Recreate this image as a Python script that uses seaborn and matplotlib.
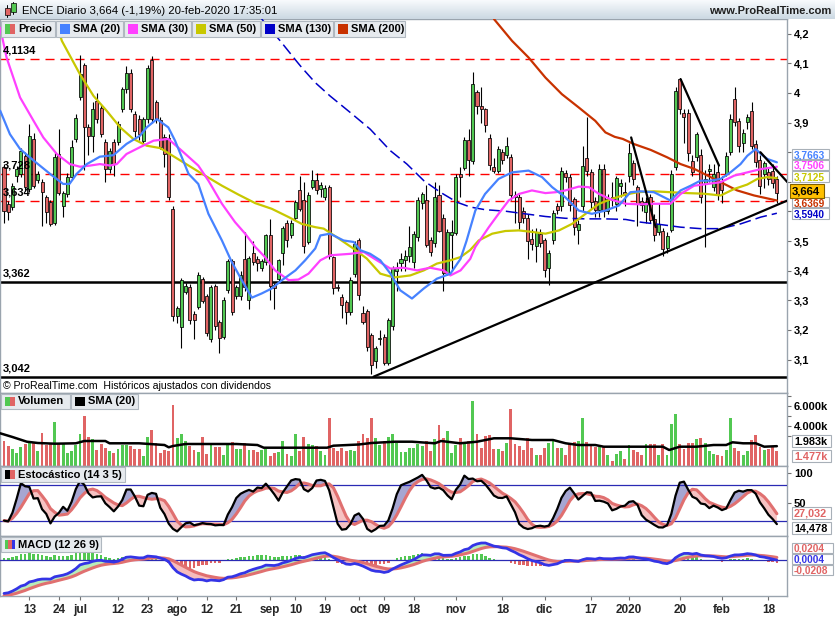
import numpy as np
import pandas as pd
import matplotlib
matplotlib.use("Agg")
import matplotlib.pyplot as plt
from matplotlib.patches import Rectangle
from matplotlib.lines import Line2D
import matplotlib.transforms as mtransforms
import seaborn as sns

sns.set_theme(style="white")
plt.rcParams["font.family"] = ["Liberation Sans", "DejaVu Sans"]
plt.rcParams["lines.scale_dashes"] = False

# ------------------------------------------------------------------ data
first_day, last_day = "2019-06-05", "2020-02-20"
holidays = ["2019-12-25", "2019-12-26", "2020-01-01"]

opens = [
    3.749, 3.626, 3.615, 3.721, 3.727, 3.788, 3.676, 3.845, 3.707, 3.699,
    3.648, 3.631, 3.561, 3.794, 3.620, 3.659, 3.715, 3.844, 3.985, 4.095,
    3.886, 3.856, 3.974, 3.951, 3.833, 3.743, 3.833, 3.833, 3.946, 4.013,
    4.069, 3.929, 3.912, 3.839, 3.912, 4.111, 3.968, 3.909, 3.850, 3.848,
    3.609, 3.246, 3.211, 3.328, 3.345, 3.255, 3.278, 3.373, 3.314, 3.169,
    3.349, 3.227, 3.177, 3.334, 3.433, 3.314, 3.314, 3.438, 3.302, 3.460,
    3.438, 3.409, 3.430, 3.522, 3.353, 3.373, 3.459, 3.561, 3.519, 3.579,
    3.671, 3.639, 3.497, 3.682, 3.706, 3.675, 3.648, 3.684, 3.446, 3.345,
    3.311, 3.295, 3.261, 3.388, 3.502, 3.258, 3.264, 3.182, 3.096, 3.168,
    3.175, 3.087, 3.213, 3.400, 3.426, 3.435, 3.448, 3.429, 3.513, 3.628,
    3.639, 3.502, 3.493, 3.657, 3.579, 3.393, 3.520, 3.527, 3.725, 3.747,
    3.841, 3.772, 4.005, 3.955, 3.945, 3.848, 3.751, 3.738, 3.800, 3.792,
    3.783, 3.657, 3.650, 3.600, 3.578, 3.508, 3.482, 3.525, 3.502, 3.409,
    3.502, 3.618, 3.618, 3.729, 3.716, 3.643, 3.536, 3.620, 3.781, 3.732,
    3.635, 3.606, 3.743, 3.603, 3.650, 3.626, 3.685, 3.665, 3.721, 3.763,
    3.682, 3.637, 3.598, 3.648, 3.575, 3.530, 3.533, 3.476, 3.538, 3.749,
    4.047, 3.934, 3.934, 3.772, 3.783, 3.792, 3.693, 3.737, 3.682, 3.732,
    3.704, 3.727, 3.800, 3.979, 3.906, 3.832, 3.903, 3.940, 3.828, 3.774,
    3.727, 3.732, 3.738, 3.710,
]
highs = [
    3.760, 3.635, 3.695, 3.755, 3.815, 3.800, 3.895, 3.865, 3.735, 3.710,
    3.655, 3.640, 3.800, 3.878, 3.670, 3.730, 3.840, 3.930, 4.128, 4.100,
    3.895, 3.970, 4.000, 3.960, 3.845, 3.815, 3.845, 3.905, 4.020, 4.090,
    4.080, 3.940, 3.925, 3.920, 4.095, 4.125, 3.975, 3.920, 3.860, 3.860,
    3.620, 3.280, 3.375, 3.360, 3.355, 3.265, 3.395, 3.380, 3.320, 3.350,
    3.355, 3.235, 3.310, 3.440, 3.440, 3.350, 3.400, 3.530, 3.450, 3.500,
    3.450, 3.440, 3.525, 3.575, 3.360, 3.440, 3.550, 3.570, 3.570, 3.640,
    3.720, 3.700, 3.665, 3.740, 3.730, 3.700, 3.690, 3.690, 3.450, 3.355,
    3.320, 3.300, 3.380, 3.500, 3.510, 3.280, 3.270, 3.190, 3.145, 3.200,
    3.185, 3.240, 3.415, 3.430, 3.460, 3.470, 3.550, 3.535, 3.650, 3.665,
    3.690, 3.515, 3.700, 3.690, 3.590, 3.540, 3.570, 3.725, 3.750, 3.850,
    3.880, 4.070, 4.010, 4.020, 3.950, 3.860, 3.780, 3.820, 3.810, 3.850,
    3.795, 3.670, 3.660, 3.615, 3.590, 3.540, 3.545, 3.540, 3.510, 3.470,
    3.605, 3.630, 3.750, 3.740, 3.725, 3.650, 3.570, 3.820, 3.920, 3.745,
    3.650, 3.760, 3.760, 3.660, 3.700, 3.720, 3.710, 3.700, 3.830, 3.775,
    3.690, 3.650, 3.650, 3.660, 3.590, 3.630, 3.545, 3.530, 3.740, 4.020,
    4.050, 3.945, 3.945, 3.790, 3.870, 3.810, 3.740, 3.760, 3.760, 3.760,
    3.720, 3.800, 3.930, 4.020, 3.915, 3.880, 3.930, 3.970, 3.840, 3.790,
    3.770, 3.750, 3.760, 3.720,
]
lows = [
    3.561, 3.570, 3.605, 3.700, 3.715, 3.668, 3.665, 3.680, 3.695, 3.550,
    3.560, 3.550, 3.555, 3.655, 3.580, 3.650, 3.705, 3.835, 3.975, 3.740,
    3.790, 3.800, 3.900, 3.850, 3.700, 3.730, 3.720, 3.825, 3.935, 4.000,
    3.935, 3.850, 3.840, 3.830, 3.900, 3.900, 3.900, 3.810, 3.750, 3.640,
    3.230, 3.225, 3.138, 3.320, 3.220, 3.170, 3.270, 3.290, 3.180, 3.160,
    3.200, 3.121, 3.170, 3.325, 3.250, 3.305, 3.300, 3.330, 3.270, 3.420,
    3.400, 3.400, 3.420, 3.300, 3.270, 3.365, 3.420, 3.480, 3.510, 3.570,
    3.600, 3.460, 3.490, 3.675, 3.660, 3.650, 3.640, 3.440, 3.320, 3.330,
    3.240, 3.220, 3.250, 3.380, 3.300, 3.220, 3.130, 3.050, 3.070, 3.150,
    3.080, 3.080, 3.200, 3.330, 3.400, 3.400, 3.430, 3.410, 3.500, 3.610,
    3.480, 3.450, 3.480, 3.530, 3.330, 3.385, 3.400, 3.520, 3.650, 3.740,
    3.720, 3.760, 3.930, 3.900, 3.870, 3.740, 3.730, 3.730, 3.760, 3.780,
    3.640, 3.560, 3.540, 3.560, 3.440, 3.470, 3.430, 3.480, 3.380, 3.350,
    3.490, 3.590, 3.600, 3.700, 3.600, 3.520, 3.490, 3.600, 3.720, 3.610,
    3.580, 3.580, 3.580, 3.590, 3.620, 3.600, 3.650, 3.620, 3.700, 3.690,
    3.550, 3.600, 3.560, 3.560, 3.500, 3.520, 3.450, 3.460, 3.530, 3.740,
    3.930, 3.830, 3.770, 3.720, 3.770, 3.630, 3.480, 3.700, 3.670, 3.640,
    3.630, 3.720, 3.790, 3.890, 3.800, 3.800, 3.880, 3.810, 3.750, 3.660,
    3.680, 3.690, 3.680, 3.630,
]
closes = [
    3.603, 3.598, 3.687, 3.743, 3.805, 3.682, 3.856, 3.687, 3.727, 3.665,
    3.598, 3.558, 3.783, 3.662, 3.662, 3.715, 3.816, 3.915, 4.063, 3.886,
    3.856, 3.945, 3.912, 3.862, 3.743, 3.805, 3.760, 3.895, 4.013, 4.066,
    3.946, 3.873, 3.862, 3.912, 4.086, 3.912, 3.912, 3.819, 3.794, 3.650,
    3.246, 3.275, 3.368, 3.347, 3.233, 3.233, 3.387, 3.298, 3.191, 3.345,
    3.214, 3.173, 3.302, 3.433, 3.261, 3.345, 3.387, 3.345, 3.444, 3.428,
    3.427, 3.432, 3.519, 3.347, 3.340, 3.435, 3.545, 3.504, 3.561, 3.631,
    3.609, 3.485, 3.657, 3.706, 3.671, 3.690, 3.680, 3.448, 3.340, 3.340,
    3.283, 3.261, 3.370, 3.491, 3.317, 3.227, 3.143, 3.081, 3.138, 3.172,
    3.087, 3.233, 3.409, 3.408, 3.438, 3.450, 3.480, 3.525, 3.639, 3.659,
    3.488, 3.463, 3.650, 3.534, 3.392, 3.530, 3.530, 3.716, 3.718, 3.841,
    3.774, 4.032, 3.957, 3.945, 3.893, 3.758, 3.735, 3.811, 3.774, 3.821,
    3.657, 3.648, 3.564, 3.578, 3.500, 3.491, 3.530, 3.493, 3.401, 3.460,
    3.594, 3.606, 3.738, 3.718, 3.622, 3.547, 3.556, 3.755, 3.736, 3.631,
    3.606, 3.743, 3.603, 3.643, 3.640, 3.713, 3.695, 3.655, 3.796, 3.710,
    3.624, 3.622, 3.631, 3.570, 3.519, 3.556, 3.474, 3.516, 3.727, 4.007,
    3.946, 3.918, 3.796, 3.732, 3.861, 3.650, 3.710, 3.745, 3.725, 3.654,
    3.673, 3.788, 3.912, 3.901, 3.822, 3.864, 3.920, 3.822, 3.766, 3.686,
    3.763, 3.710, 3.695, 3.664,
]
volumes_k = [
    2500, 2000, 1700, 1300, 1900, 2200, 2300, 2300, 1500, 3300,
    2100, 2300, 4400, 2200, 2200, 1300, 1500, 2100, 3200, 5000,
    2900, 2700, 1600, 2200, 1800, 1500, 1300, 1700, 2100, 2100,
    2000, 1700, 1700, 1000, 2900, 3600, 2300, 1300, 1600, 1500,
    6100, 2800, 3200, 2500, 2000, 1600, 1400, 2900, 1200, 2100,
    1900, 1900, 1100, 2200, 2400, 1700, 1700, 2300, 1600, 1600,
    1400, 1600, 1700, 1000, 1300, 1400, 2500, 1200, 1000, 3200,
    1500, 2900, 2200, 2100, 2000, 1500, 1100, 4800, 1800, 1500,
    1800, 1500, 1600, 1500, 2500, 3200, 2800, 4800, 2800, 2100,
    2500, 2900, 3200, 2300, 1400, 1400, 1800, 1800, 2200, 2000,
    2500, 1500, 2700, 4100, 2800, 3500, 1300, 2100, 2800, 2300,
    2500, 6500, 3200, 1800, 3000, 3100, 1700, 1700, 1500, 2300,
    5700, 2200, 2000, 1600, 2800, 1800, 1100, 1100, 1800, 2300,
    2600, 1800, 1800, 1100, 2300, 2400, 2500, 4800, 2400, 2000,
    1900, 1900, 1900, 1100, 500, 1200, 1500, 700, 2100, 1600,
    1400, 1100, 2200, 2200, 2200, 1100, 2200, 1100, 4200, 5200,
    2200, 1700, 2300, 2300, 2700, 2800, 2300, 1500, 1200, 1100,
    1000, 1600, 4800, 1800, 1500, 1100, 1500, 2600, 3100, 1900,
    1600, 1700, 2000, 1477,
]

# moving averages (bar position, value)
sma20_x = [-0.9, 1.4, 3.8, 7, 10.9, 14, 15.5, 17.2, 19.6, 22.7,
           25.9, 29, 32.2, 33.8, 36.2, 38.9, 40.5, 43.7, 46, 48.4,
           51.6, 53.9, 56.3, 58.7, 61, 63.4, 65.8, 69, 71.3, 73.7,
           74.9, 77.2, 80.4, 82.8, 84.4, 86.7, 89.1, 91.5, 93.8, 96.6,
           99.4, 102.5, 105.7, 108.1, 109.5, 111.6, 113.9, 117.1, 120.3, 124.2,
           127.4, 129.8, 132.9, 136.1, 139.2, 142.4, 145.6, 148.3, 150.7, 153.9,
           157.8, 160.2, 162.6, 164.9, 167.3, 169.7, 172, 174.4, 176, 178,
           179.2, 180.8, 183]
sma20_y = [3.940, 3.861, 3.811, 3.772, 3.727, 3.693, 3.693, 3.727, 3.760, 3.785,
           3.790, 3.828, 3.856, 3.884, 3.912, 3.884, 3.839, 3.727, 3.693, 3.592,
           3.502, 3.430, 3.368, 3.309, 3.323, 3.340, 3.368, 3.401, 3.435, 3.475,
           3.519, 3.525, 3.502, 3.497, 3.469, 3.457, 3.435, 3.390, 3.334, 3.306,
           3.340, 3.373, 3.390, 3.440, 3.500, 3.603, 3.659, 3.710, 3.732, 3.738,
           3.716, 3.682, 3.648, 3.603, 3.592, 3.603, 3.620, 3.665, 3.668, 3.665,
           3.637, 3.671, 3.687, 3.704, 3.704, 3.710, 3.732, 3.760, 3.788, 3.811,
           3.794, 3.777, 3.766]
sma30_x = [-0.9, 0.6, 3.8, 7, 9.3, 12.5, 15.6, 18, 20.4, 22.7, 25.1,
           26.7, 29, 32.2, 35.4, 38.9, 42.1, 46, 48.4, 51.6, 54.7,
           57.1, 59.5, 61.8, 64.2, 67.4, 69.7, 72.1, 74.9, 77.2, 82,
           85.2, 88.3, 91.5, 94.6, 97.8, 100.9, 104.1, 105.7, 108.1, 110.4,
           111.6, 114.8, 117.1, 119.5, 121.9, 125, 128.2, 130.6, 132.9, 136.1,
           138.5, 140.9, 144, 147.2, 150.7, 153.9, 157.8, 160.2, 163.4, 166.6,
           169.7, 172.9, 176, 179.2, 183]
sma30_y = [4.220, 4.120, 3.985, 3.906, 3.850, 3.794, 3.760, 3.751, 3.755, 3.760, 3.755,
           3.760, 3.794, 3.817, 3.839, 3.845, 3.805, 3.755, 3.704, 3.626, 3.564,
           3.525, 3.480, 3.446, 3.401, 3.368, 3.370, 3.390, 3.435, 3.452, 3.457,
           3.463, 3.435, 3.407, 3.410, 3.401, 3.410, 3.401, 3.384, 3.401, 3.440,
           3.480, 3.547, 3.592, 3.637, 3.659, 3.671, 3.662, 3.665, 3.671, 3.684,
           3.682, 3.659, 3.639, 3.626, 3.624, 3.626, 3.626, 3.659, 3.687, 3.693,
           3.699, 3.721, 3.732, 3.743, 3.751]
sma50_x = [12.5, 13.7, 18, 21.2, 24.3, 27.5, 30.6, 33.8, 37, 39.7,
           43.7, 47.6, 51.6, 55.5, 59.5, 63.4, 67.4, 70.5, 73.7, 75.7,
           78.8, 82.8, 85.9, 89.1, 92.3, 96.2, 99.4, 102.5, 105.7, 108.1,
           110.4, 112.4, 115.6, 118.7, 121.9, 125, 128.2, 131.4, 134.5, 137.7,
           140.9, 144, 147.2, 150, 153.9, 157.8, 161.8, 165.7, 169.7, 172.9,
           176, 178.4, 180.8, 183]
sma50_y = [4.230, 4.176, 4.063, 3.990, 3.940, 3.884, 3.845, 3.822, 3.814, 3.790,
           3.755, 3.721, 3.687, 3.657, 3.628, 3.609, 3.581, 3.558, 3.547, 3.542,
           3.513, 3.474, 3.441, 3.390, 3.377, 3.384, 3.401, 3.424, 3.435, 3.446,
           3.470, 3.502, 3.525, 3.534, 3.536, 3.531, 3.525, 3.536, 3.558, 3.592,
           3.626, 3.643, 3.657, 3.665, 3.668, 3.665, 3.662, 3.660, 3.654, 3.676,
           3.691, 3.710, 3.716, 3.7125]
sma130_x = [61, 65.4, 69.4, 70.5, 73.7, 77.2, 82, 86.7, 91.5, 95.4,
            99.4, 103.3, 107.3, 110.4, 113.9, 118.7, 123.4, 128.2, 132.9, 137.7,
            142.4, 147.2, 150.7, 155.4, 160.2, 164.9, 169.7, 174.4, 179.2, 183]
sma130_y = [4.250, 4.176, 4.105, 4.086, 4.035, 3.990, 3.934, 3.878, 3.805, 3.760,
            3.704, 3.665, 3.631, 3.615, 3.606, 3.601, 3.592, 3.583, 3.577, 3.575,
            3.575, 3.573, 3.564, 3.556, 3.547, 3.542, 3.542, 3.558, 3.581, 3.594]
sma200_x = [116, 120.3, 124.2, 128.2, 132.1, 136.1, 140, 142.4, 144.6, 146.5,
            149.1, 153.1, 157, 160.2, 163.4, 166.6, 169.7, 173.6, 177.6, 183]
sma200_y = [4.250, 4.176, 4.120, 4.052, 3.996, 3.951, 3.906, 3.867, 3.852, 3.845,
            3.828, 3.808, 3.783, 3.760, 3.744, 3.721, 3.699, 3.671, 3.654, 3.637]

vol_sma_x = [-0.9, 2, 5.4, 8, 12, 17, 19, 24, 25, 32, 38, 39, 40, 43, 50,
             55, 60, 61.5, 70, 76.5, 78, 84, 87, 92.6, 96.6, 102, 103.5, 108,
             112, 116, 120, 125, 130, 133, 136, 140, 142, 150, 156, 157.5,
             160, 164, 168, 171, 172.5, 175, 178, 180, 183]
vol_sma_y = [3270, 2900, 2430, 2300, 2230, 2270, 2500, 2500, 2270, 2270, 2100, 1870, 2000, 2200, 2200,
             2200, 2100, 1830, 1830, 1830, 2030, 2150, 2300, 2430, 2430, 2270, 2500, 2270,
             2430, 2770, 2770, 2600, 2600, 2270, 2100, 2100, 1930, 1930, 1930, 1600,
             1930, 1930, 2100, 2100, 2370, 2270, 2270, 1930, 1983]

# horizontal levels and drawn trend lines
levels = [4.1134, 3.728, 3.634, 3.362, 3.042]
level_labels = ["4,1134", "3,728", "3,634", "3,362", "3,042"]
trend_x = [[87.5, 185.5], [148.5, 154.3], [160.2, 169.3], [179.1, 185.5]]
trend_y = [[3.042, 3.637], [3.850, 3.547], [4.047, 3.755], [3.800, 3.699]]

# state of the MACD averages before the first visible bar
macd_seed = {"ema12": 3.82, "ema26": 4.09, "signal": -0.29}

tick_dates = ["2019-06-13", "2019-06-24", "2019-07-01", "2019-07-12", "2019-07-23",
              "2019-08-01", "2019-08-12", "2019-08-21", "2019-09-02", "2019-09-10",
              "2019-09-19", "2019-10-01", "2019-10-09", "2019-10-18", "2019-11-01",
              "2019-11-18", "2019-12-02", "2019-12-17", "2020-01-02", "2020-01-20",
              "2020-02-03", "2020-02-18"]
tick_labels = ["13", "24", "jul", "12", "23", "ago", "12", "21", "sep", "10", "19",
               "oct", "09", "18", "nov", "18", "dic", "17", "2020", "20", "feb", "18"]
price_ticks = [3.1, 3.2, 3.3, 3.4, 3.5, 3.6, 3.7, 3.8, 3.9, 4.0, 4.1, 4.2]
# 3,6 / 3,7 / 3,8 sit behind the value boxes in the reference
price_tick_labels = ["3,1", "3,2", "3,3", "3,4", "3,5", "", "", "", "3,9", "4", "4,1", "4,2"]

# ------------------------------------------------------------------ derived
dates = pd.bdate_range(first_day, last_day)
dates = dates[~dates.isin(pd.to_datetime(holidays))]
n = len(dates)
x = np.arange(n)
o, h, l, c = (np.asarray(a, float) for a in (opens, highs, lows, closes))
vol = np.asarray(volumes_k, float)

GREEN, RED = "#52c852", "#e06464"
colors = np.where(c >= o, GREEN, RED)

hh = pd.Series(h).rolling(14, min_periods=1).max()
ll = pd.Series(l).rolling(14, min_periods=1).min()
fast = (pd.Series(c) - ll) / (hh - ll) * 100
stoch_k = fast.rolling(3, min_periods=1).mean().to_numpy()
stoch_d = pd.Series(stoch_k).rolling(5, min_periods=1).mean().to_numpy()

e12, e26, sg = macd_seed["ema12"], macd_seed["ema26"], macd_seed["signal"]
macd, signal = [], []
for v in c:
    e12 += 2 / 13 * (v - e12)
    e26 += 2 / 27 * (v - e26)
    m = e12 - e26
    sg += 2 / 10 * (m - sg)
    macd.append(m)
    signal.append(sg)
macd = np.array(macd)
signal = np.array(signal)
hist = macd - signal

# ------------------------------------------------------------------ figure
W, H = 835, 620
fig = plt.figure(figsize=(W / 100, H / 100), dpi=100)
fig.patch.set_facecolor("white")


def rect(x0, y0, x1, y1):
    return [x0 / W, 1 - y1 / H, (x1 - x0) / W, (y1 - y0) / H]


ax_p = fig.add_axes(rect(0, 19, 787, 393))
ax_v = fig.add_axes(rect(0, 393, 787, 466))
ax_s = fig.add_axes(rect(0, 466, 787, 536))
ax_m = fig.add_axes(rect(0, 536, 787, 596))
axes = [ax_p, ax_v, ax_s, ax_m]
GRID = "#9aa4ae"
for ax in axes:
    ax.set_xlim(-0.95, 185.4)
    ax.set_facecolor("white")
    for sp in ax.spines.values():
        sp.set_color(GRID)
        sp.set_linewidth(1.0)
    ax.yaxis.tick_right()
    ax.tick_params(axis="x", bottom=False, labelbottom=False)
    ax.tick_params(axis="y", right=True, left=False, direction="out", length=3,
                   width=0.8, color="#707070", labelsize=8, pad=2, labelcolor="black")

# ---- price panel
ax_p.set_ylim(2.987, 4.2499)
for v, lab in zip(levels, level_labels):
    if v > 3.6:
        ax_p.axhline(v, color="#ff0000", lw=1.0, linestyle=(0, (6.5, 4.3)), zorder=2)
    else:
        ax_p.axhline(v, color="black", lw=1.8, zorder=2)
    ax_p.text(0.004, v + 0.012, lab, transform=mtransforms.blended_transform_factory(ax_p.transAxes, ax_p.transData),
              fontsize=8, fontweight="bold", color="black", va="bottom", ha="left", zorder=8)

ax_p.vlines(x, l, h, color="black", lw=0.8, zorder=3)
ax_p.bar(x, np.maximum(np.abs(c - o), 0.003), bottom=np.minimum(o, c), width=0.72,
         color=colors, edgecolor="black", linewidth=0.55, zorder=4)

sma_specs = [
    (sma130_x, sma130_y, "#0000c8", 1.1, (0, (8.5, 3.6))),
    (sma200_x, sma200_y, "#c83200", 1.6, "-"),
    (sma50_x, sma50_y, "#c8c800", 1.6, "-"),
    (sma30_x, sma30_y, "#ff40ff", 1.6, "-"),
    (sma20_x, sma20_y, "#4682ff", 1.6, "-"),
]
for xs, ys, col, lw, ls in sma_specs:
    sns.lineplot(x=xs, y=ys, ax=ax_p, color=col, lw=lw, linestyle=ls, sort=False,
                 estimator=None, legend=False, zorder=5)
for tx, ty in zip(trend_x, trend_y):
    ax_p.plot(tx, ty, color="black", lw=1.6, zorder=6, solid_capstyle="round")
ax_p.set_yticks(price_ticks)
ax_p.set_yticklabels(price_tick_labels, fontweight="bold")

# ---- volume panel
ax_v.set_ylim(0, 7300)
ax_v.bar(x, vol, width=0.68, color=colors, linewidth=0, zorder=2)
sns.lineplot(x=vol_sma_x, y=vol_sma_y, ax=ax_v, color="black", lw=1.8, sort=False,
             estimator=None, legend=False, zorder=4)
ax_v.set_yticks([3000, 4000, 5000, 6000, 7000])
ax_v.set_yticklabels(["", "4.000k", "", "6.000k", ""], fontweight="bold")

# ---- stochastic panel
ax_s.set_ylim(-4.5, 112.2)
ax_s.fill_between(x, stoch_k, stoch_d, where=stoch_k >= stoch_d, interpolate=True,
                  color="#a6a6d2", lw=0, zorder=2)
ax_s.fill_between(x, stoch_k, stoch_d, where=stoch_k < stoch_d, interpolate=True,
                  color="#f6c2c2", lw=0, zorder=2)
for lvl in (80, 20):
    ax_s.axhline(lvl, color="#2a2ab4", lw=0.9, zorder=3)
sns.lineplot(x=x, y=stoch_d, ax=ax_s, color="#e07070", lw=2.2, legend=False, zorder=4)
sns.lineplot(x=x, y=stoch_k, ax=ax_s, color="black", lw=1.6, legend=False, zorder=5)
ax_s.set_yticks([50, 100])
ax_s.set_yticklabels(["50", "100"], fontweight="bold")

# ---- MACD panel
ax_m.set_ylim(-0.288, 0.192)
ax_m.bar(x, hist, width=0.6, color=np.where(hist >= 0, GREEN, RED), linewidth=0, zorder=2)
ax_m.fill_between(x, macd, signal, where=macd >= signal, interpolate=True,
                  color="#b8ecb8", lw=0, zorder=2)
ax_m.fill_between(x, macd, signal, where=macd < signal, interpolate=True,
                  color="#f6bcbc", lw=0, zorder=2)
ax_m.axhline(0, color="#2a2ab4", lw=0.9, zorder=3)
sns.lineplot(x=x, y=signal, ax=ax_m, color="#e07070", lw=2.2, legend=False, zorder=4)
sns.lineplot(x=x, y=macd, ax=ax_m, color="#3434e6", lw=2.0, legend=False, zorder=5)
ax_m.set_yticks([])
tick_idx = [dates.get_loc(pd.Timestamp(d)) for d in tick_dates]
ax_m.set_xticks(tick_idx)
ax_m.set_xticklabels(tick_labels, fontweight="bold", fontsize=8.5)
ax_m.tick_params(axis="x", bottom=True, labelbottom=True, direction="out", length=3,
                 width=0.8, color="#707070", pad=3)

for ax in axes:
    ax.set_xlabel("")
    ax.set_ylabel("")

# ------------------------------------------------------------------ header & legends
ax_h = fig.add_axes(rect(0, 0, W, 19))
grad = np.linspace(0, 1, 20)[:, None, None]
top_c = np.array([0.97, 0.98, 0.99])
bot_c = np.array([0.80, 0.85, 0.89])
ax_h.imshow(top_c + (bot_c - top_c) * grad, aspect="auto", extent=[0, 1, 0, 1])
ax_h.axis("off")


def fig_rect(x0, y0, x1, y1, **kw):
    fig.patches.append(Rectangle((x0 / W, 1 - y1 / H), (x1 - x0) / W, (y1 - y0) / H,
                                 transform=fig.transFigure, **kw))


def fig_line(x0, y0, x1, y1, **kw):
    fig.lines.append(Line2D([x0 / W, x1 / W], [1 - y0 / H, 1 - y1 / H],
                            transform=fig.transFigure, **kw))


# app icon: two mini candles
fig_line(7, 5, 7, 17, color="black", lw=0.7, zorder=6)
fig_rect(4.5, 8, 9.5, 15, fc=RED, ec="black", lw=0.5, zorder=7)
fig_line(13, 1.5, 13, 14, color="black", lw=0.7, zorder=6)
fig_rect(10.5, 3, 15.5, 12, fc=GREEN, ec="black", lw=0.5, zorder=7)
fig.text(22 / W, 1 - 10.5 / H, "ENCE Diario 3,664 (-1,19%) 20-feb-2020 17:35:01",
         fontsize=8.2, color="black", va="center", ha="left", zorder=7)
fig.text(831 / W, 1 - 10.5 / H, "www.ProRealTime.com", fontsize=8, fontweight="bold",
         color="#202020", va="center", ha="right", zorder=7)


def legend_box(x0, x1, y0, y1, label, swatch):
    fig_rect(x0, y0, x1, y1, fc="#e6eaee", ec="#b0b8c0", lw=0.8, zorder=8)
    k = len(swatch)
    ym = (y0 + y1) / 2
    for i, col in enumerate(swatch):
        fig_rect(x0 + 4 + i * 10 / k, ym - 4.5, x0 + 4 + (i + 1) * 10 / k, ym + 4.5,
                 fc=col, ec="none", zorder=9)
    fig.text((x0 + 17) / W, 1 - ym / H, label, fontsize=8, fontweight="bold",
             color="black", va="center", ha="left", zorder=10)


price_legend = [("Precio", [GREEN, RED], 1, 55), ("SMA (20)", ["#4682ff"], 56, 123),
                ("SMA (30)", ["#ff40ff"], 124, 191), ("SMA (50)", ["#c8c800"], 192, 260),
                ("SMA (130)", ["#0000c8"], 261, 333), ("SMA (200)", ["#c83200"], 334, 405)]
for lab, sw, x0, x1 in price_legend:
    legend_box(x0, x1, 21, 37, lab, sw)
legend_box(1, 70, 393.5, 409, "Volumen", [GREEN, RED])
legend_box(71, 138, 393.5, 409, "SMA (20)", ["black"])
legend_box(1, 125, 467, 482, "Estocástico (14 3 5)", ["black", RED])
legend_box(1, 101, 537, 552, "MACD (12 26 9)", [GREEN, RED, "#3434e6"])

fig.text(3 / W, 1 - 386 / H, "© ProRealTime.com  Históricos ajustados con dividendos",
         fontsize=7.6, color="black", va="center", ha="left", zorder=7)


def value_box(yc, text, color, fc="white", ec="#a8b0b8", x0=792, x1=829, hgt=10.5,
              size=7.3, z=12):
    fig_rect(x0, yc - hgt / 2, x1, yc + hgt / 2, fc=fc, ec=ec, lw=0.8, zorder=z)
    fig.text((x0 + 2) / W, 1 - yc / H, text, fontsize=size, fontweight="bold",
             color=color, va="center_baseline", ha="left", zorder=z + 0.5)


value_box(154, "3,7663", "#4682ff")
value_box(165, "3,7506", "#ff40ff")
value_box(176.5, "3,7125", "#c8c800")
value_box(202, "3,6369", "#c83200", z=11)
value_box(213.5, "3,5940", "#0000c8")
value_box(191, "3,664", "black", fc="#ffc000", ec="#806000", x0=790, x1=824, hgt=14,
          size=8.2, z=13)
value_box(441, "1.983k", "black", x1=831, hgt=12, size=7.8)
value_box(456, "1.477k", RED, x1=831, hgt=12, size=7.8)
value_box(513, "27,032", RED, x1=831, hgt=12, size=7.8)
value_box(527.5, "14,478", "black", x1=831, hgt=12, size=7.8)
value_box(547.5, "0,0204", RED, x1=833, hgt=10, size=7.3)
value_box(558.5, "0,0004", "#3434e6", x1=833, hgt=10, size=7.3)
value_box(569.5, "-0,0208", RED, x1=833, hgt=10, size=7.3)

fig.savefig("out.png", dpi=100, facecolor="white")
